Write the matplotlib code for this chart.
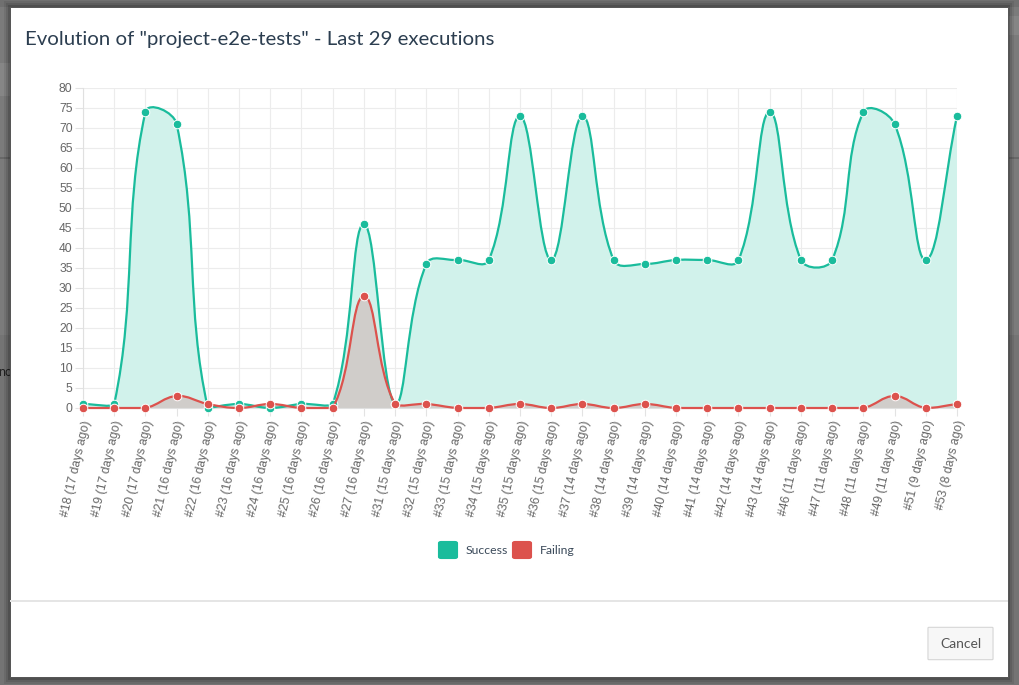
import numpy as np
import matplotlib
matplotlib.use('Agg')
import matplotlib.pyplot as plt
import matplotlib.transforms as mtransforms
from matplotlib.path import Path
from matplotlib.patches import PathPatch, FancyBboxPatch, Rectangle

# execution labels and counts per execution
labels = ['#18 (17 days ago)', '#19 (17 days ago)', '#20 (17 days ago)', '#21 (16 days ago)',
          '#22 (16 days ago)', '#23 (16 days ago)', '#24 (16 days ago)', '#25 (16 days ago)',
          '#26 (16 days ago)', '#27 (16 days ago)', '#31 (15 days ago)', '#32 (15 days ago)',
          '#33 (15 days ago)', '#34 (15 days ago)', '#35 (15 days ago)', '#36 (15 days ago)',
          '#37 (14 days ago)', '#38 (14 days ago)', '#39 (14 days ago)', '#40 (14 days ago)',
          '#41 (14 days ago)', '#42 (14 days ago)', '#43 (14 days ago)', '#46 (11 days ago)',
          '#47 (11 days ago)', '#48 (11 days ago)', '#49 (11 days ago)', '#51 (9 days ago)',
          '#53 (8 days ago)']
success = [1, 1, 74, 71, 0, 1, 0, 1, 1, 46, 1, 36, 37, 37, 73, 37, 73, 37, 36, 37,
           37, 37, 74, 37, 37, 74, 71, 37, 73]
failing = [0, 0, 0, 3, 1, 0, 1, 0, 0, 28, 1, 1, 0, 0, 1, 0, 1, 0, 1, 0,
           0, 0, 0, 0, 0, 0, 3, 0, 1]

TEAL = '#1abc9c'
RED = '#dc524d'

W, H = 1020, 685
fig = plt.figure(figsize=(W / 100, H / 100), dpi=100)
fig.patch.set_facecolor('#7b7b7b')


def fx(px):
    return px / W


def fy(py):
    return 1 - py / H


def band(x, y, w, h, color, z=0):
    fig.patches.append(Rectangle((fx(x), fy(y + h)), w / W, h / H, transform=fig.transFigure,
                                 color=color, lw=0, zorder=z))


# page behind the overlay
band(0, 0, W, 7, '#707070')
band(0, 335, W, H - 335, '#747474')
band(1008, 16, 12, 19, '#858585')
band(0, 157, W, 1.5, '#686868')
band(0, 63, 10, 33, '#868686')
fig.text(fx(-2), fy(372), 'no', fontsize=9, family='Lato', color='#222222',
         va='center', ha='left', zorder=0)

# modal shadow and body
for off, a in [(6, 0.08), (4, 0.1), (2, 0.15)]:
    fig.patches.append(Rectangle((fx(10 - off), fy(678 + off)), (998 + 2 * off) / W,
                                 (671 + 2 * off) / H, transform=fig.transFigure,
                                 color='black', alpha=a, zorder=1, lw=0))
fig.patches.append(Rectangle((fx(10), fy(677)), 998 / W, 670 / H, transform=fig.transFigure,
                             facecolor='white', edgecolor='#555555', lw=0.7, zorder=2))
band(10, 600, 998, 2, '#e5e5e5', 3)

fig.text(fx(25), fy(40), 'Evolution of "project-e2e-tests" - Last 29 executions',
         fontsize=14.7, family='Lato', color='#2c3e50', va='center', ha='left', zorder=5)

# chart area
ax = fig.add_axes([fx(83), fy(408), 874 / W, 320 / H], zorder=4)
ax.set_facecolor('none')
ax.set_xlim(0, len(labels) - 1)
ax.set_ylim(0, 80)
ax.set_yticks(np.arange(0, 81, 5))
ax.set_xticks(np.arange(len(labels)))
ax.set_xticklabels(labels, rotation=77, ha='right', va='center', rotation_mode='anchor')
ax.tick_params(axis='both', colors='#e3e3e3', labelcolor='#666666', length=6,
               width=0.8, labelsize=8.7)
ax.tick_params(axis='y', pad=1.5)
ax.tick_params(axis='x', pad=3)
shift = mtransforms.ScaledTranslation(4 / 100, 0, fig.dpi_scale_trans)
for lab in ax.get_xticklabels():
    lab.set_family('Liberation Sans')
    lab.set_transform(lab.get_transform() + shift)
for lab in ax.get_yticklabels():
    lab.set_family('Liberation Sans')
ax.grid(True, color='#ececec', lw=0.8)
ax.set_axisbelow(True)
for side in ['top', 'right']:
    ax.spines[side].set_visible(False)
for side in ['left', 'bottom']:
    ax.spines[side].set_color('#e0e0e0')
    ax.spines[side].set_linewidth(0.8)


def spline_path(ys, tension=0.4):
    # bezier control points like Chart.js, computed in pixel space and kept in the chart area
    n = len(ys)
    pts = ax.transData.transform(np.column_stack([np.arange(n), ys]))
    ylo, yhi = ax.transData.transform([[0, 0], [0, 80]])[:, 1]
    cps = []
    for i in range(n):
        prev = pts[i - 1] if i > 0 else pts[i]
        nxt = pts[i + 1] if i < n - 1 else pts[i]
        d01 = np.hypot(*(pts[i] - prev))
        d12 = np.hypot(*(nxt - pts[i]))
        tot = d01 + d12
        fa = tension * (d01 / tot if tot else 0)
        fb = tension * (d12 / tot if tot else 0)
        c1 = pts[i] - fa * (nxt - prev)
        c2 = pts[i] + fb * (nxt - prev)
        c1[1] = np.clip(c1[1], ylo, yhi)
        c2[1] = np.clip(c2[1], ylo, yhi)
        cps.append((c1, c2))
    verts = [pts[0]]
    codes = [Path.MOVETO]
    for i in range(1, n):
        verts += [cps[i - 1][1], cps[i][0], pts[i]]
        codes += [Path.CURVE4] * 3
    verts = ax.transData.inverted().transform(np.array(verts))
    return verts, codes


def draw_series(ys, line_color, fill_color, z):
    verts, codes = spline_path(ys)
    fill_verts = np.vstack([verts, [[len(ys) - 1, 0], [0, 0], [0, 0]]])
    fill_codes = codes + [Path.LINETO, Path.LINETO, Path.CLOSEPOLY]
    ax.add_patch(PathPatch(Path(fill_verts, fill_codes), facecolor=fill_color,
                           lw=0, zorder=z))
    ax.add_patch(PathPatch(Path(verts, codes), facecolor='none', edgecolor=line_color,
                           lw=1.6, zorder=z + 3, clip_on=False))
    ax.plot(np.arange(len(ys)), ys, 'o', color=line_color, ms=6.2, mec='white',
            mew=0.7, zorder=z + 4, clip_on=False)


draw_series(success, TEAL, '#d1f2eb', 1)
draw_series(failing, RED, '#d0cdca', 2)

# legend
for x0, col, txt in [(438, TEAL, 'Success'), (512, RED, 'Failing')]:
    fig.patches.append(FancyBboxPatch((fx(x0 + 3), fy(557)), 14 / W, 14 / H,
                                      boxstyle='round,pad=0.003', transform=fig.transFigure,
                                      facecolor=col, edgecolor='none', zorder=5))
    fig.text(fx(x0 + 28), fy(551), txt, fontsize=8.8, family='Lato', color='#3b4a5a',
             va='center', ha='left', zorder=5)

# cancel button
fig.patches.append(FancyBboxPatch((fx(929), fy(659)), 63 / W, 31 / H,
                                  boxstyle='round,pad=0.001', transform=fig.transFigure,
                                  facecolor='#f7f7f7', edgecolor='#d6d6d6', lw=0.8, zorder=5))
fig.text(fx(960.5), fy(644), 'Cancel', fontsize=10, family='Lato', color='#555555',
         va='center', ha='center', zorder=6)

fig.savefig('out.png', dpi=100, facecolor=fig.get_facecolor())
